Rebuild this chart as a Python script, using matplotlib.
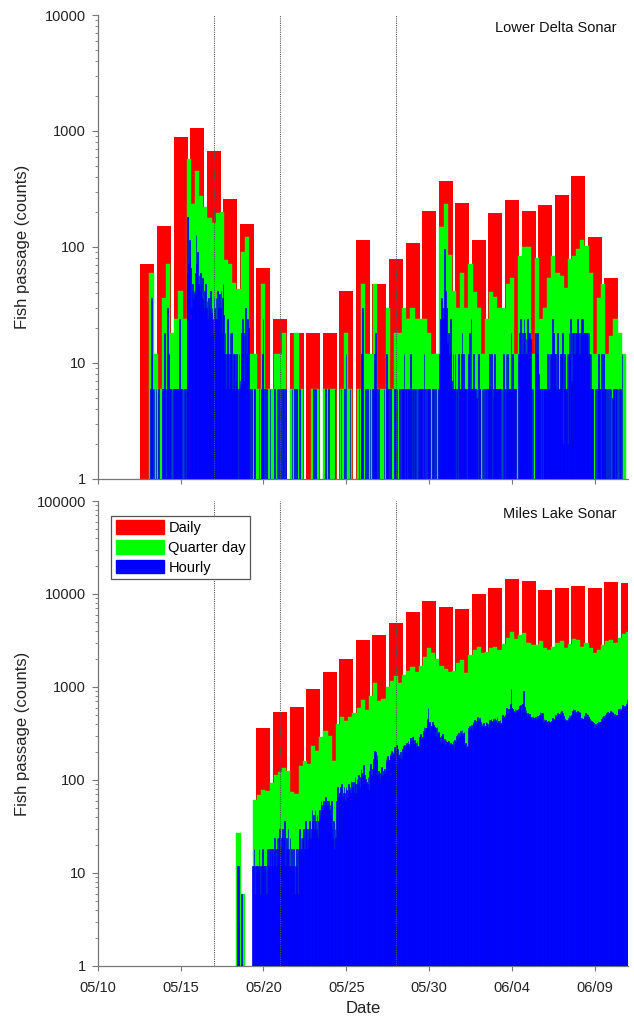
import numpy as np
import pandas as pd
import matplotlib
matplotlib.use("Agg")
import matplotlib.pyplot as plt
import matplotlib.dates as mdates
from matplotlib.patches import Patch
from matplotlib.ticker import FixedLocator, FuncFormatter, LogLocator, NullFormatter

plt.rcParams['font.family'] = ['Liberation Sans', 'DejaVu Sans']
plt.rcParams['font.size'] = 10.5

RED, GREEN, BLUE = "#ff0000", "#00ff00", "#0000ff"

# ---------------- Lower Delta Sonar ----------------
top_daily_start = "2012-05-13"          # one bar per day, 05/13 .. 06/10
top_daily = [72, 152, 883, 1068, 676, 261, 158, 66, 24, 18,
             18, 18, 42, 115, 48, 79, 109, 206, 371, 238,
             115, 195, 256, 206, 230, 279, 407, 121, 54]

top_sub_start = "2012-05-13 03:00"      # quarter-day / hourly blocks start here
top_quarter = [
    [60, 12, 6, 36], [72, 18, 24, 42], [24, 570, 237, 453], [275, 220, 177, 162],
    [195, 200, 77, 72], [49, 43, 91, 122], [12, 12, 6, 48], [6, 6, 12, 12],
    [18, 0, 6, 18], [6, 0, 0, 6], [6, 0, 6, 6], [6, 0, 6, 18],
    [6, 0, 6, 48], [12, 12, 48, 6], [6, 30, 6, 18], [18, 30, 24, 30],
    [24, 24, 24, 18], [12, 12, 150, 237], [85, 42, 30, 60], [30, 72, 41, 30],
    [12, 24, 41, 37], [30, 30, 48, 54], [12, 84, 100, 100], [12, 80, 24, 30],
    [54, 84, 60, 56], [44, 79, 84, 96], [115, 102, 60, 12], [36, 48, 12, 17],
    [24, 18, 12, 0],
]
top_hourly = [
    [0, 6, 36, 12, 6, 0, 6, 0, 0, 6, 0, 0, 0, 6, 0, 0, 0, 0, 6, 0, 6, 18, 6, 0],
    [6, 12, 30, 12, 6, 6, 6, 0, 6, 0, 6, 0, 6, 6, 0, 6, 6, 0, 6, 24, 6, 0, 6, 0],
    [6, 0, 6, 6, 0, 6, 60, 180, 72, 114, 78, 66, 30, 42, 48, 36, 42, 39, 60, 126, 72, 90, 48, 57],
    [42, 60, 48, 36, 54, 35, 30, 42, 36, 48, 30, 34, 24, 36, 30, 18, 42, 27, 30, 24, 18, 36, 30, 24],
    [36, 24, 42, 30, 24, 39, 30, 42, 18, 36, 48, 26, 12, 18, 6, 12, 24, 5, 12, 6, 18, 12, 18, 6],
    [6, 12, 6, 12, 6, 7, 12, 6, 0, 12, 6, 7, 12, 18, 24, 12, 18, 7, 18, 30, 12, 24, 18, 20],
    [6, 0, 0, 6, 0, 0, 0, 6, 6, 0, 0, 0, 0, 0, 6, 0, 0, 0, 6, 12, 24, 0, 6, 0],
    [0, 6, 0, 0, 0, 0, 6, 0, 0, 0, 0, 0, 0, 6, 0, 0, 6, 0, 6, 0, 0, 6, 0, 0],
    [6, 0, 6, 0, 6, 0, 0, 0, 0, 0, 0, 0, 0, 0, 6, 0, 0, 0, 6, 0, 6, 6, 0, 0],
    [0, 6, 0, 0, 0, 0, 0, 0, 0, 0, 0, 0, 0, 0, 0, 0, 0, 0, 0, 0, 0, 6, 0, 0],
    [6, 0, 0, 0, 0, 0, 0, 0, 0, 0, 0, 0, 0, 0, 6, 0, 0, 0, 0, 6, 0, 0, 0, 0],
    [0, 0, 0, 0, 6, 0, 0, 0, 0, 0, 0, 0, 0, 6, 0, 0, 0, 0, 6, 0, 12, 0, 0, 0],
    [0, 0, 6, 0, 0, 0, 0, 0, 0, 0, 0, 0, 0, 0, 0, 6, 0, 0, 6, 12, 30, 0, 0, 0],
    [6, 0, 0, 6, 0, 0, 0, 6, 0, 0, 6, 0, 6, 12, 6, 18, 6, 0, 0, 6, 0, 0, 0, 0],
    [0, 0, 0, 6, 0, 0, 6, 12, 6, 0, 6, 0, 0, 6, 0, 0, 0, 0, 6, 0, 6, 0, 6, 0],
    [0, 6, 6, 0, 6, 0, 6, 6, 12, 0, 6, 0, 6, 0, 6, 6, 6, 0, 12, 6, 0, 6, 6, 0],
    [6, 6, 0, 6, 0, 6, 0, 6, 6, 6, 6, 0, 6, 12, 0, 6, 0, 0, 6, 0, 6, 6, 0, 0],
    [0, 6, 0, 6, 0, 0, 6, 0, 0, 0, 6, 0, 12, 24, 36, 24, 30, 24, 30, 96, 42, 24, 30, 15],
    [12, 18, 12, 24, 12, 7, 6, 12, 6, 6, 12, 0, 6, 6, 0, 12, 6, 0, 6, 12, 18, 6, 12, 6],
    [6, 6, 6, 0, 6, 6, 12, 18, 6, 24, 6, 6, 6, 12, 6, 6, 6, 5, 6, 0, 12, 6, 6, 0],
    [0, 6, 0, 6, 0, 0, 6, 6, 0, 6, 6, 0, 12, 6, 6, 12, 0, 5, 6, 12, 6, 6, 6, 1],
    [6, 6, 6, 6, 6, 0, 6, 0, 12, 6, 6, 0, 12, 6, 12, 6, 6, 6, 6, 18, 6, 12, 6, 6],
    [6, 0, 6, 0, 0, 0, 12, 18, 12, 24, 12, 6, 18, 12, 24, 18, 12, 16, 12, 24, 18, 12, 18, 16],
    [0, 6, 0, 6, 0, 0, 12, 18, 12, 18, 12, 8, 6, 6, 0, 6, 6, 0, 6, 6, 6, 6, 6, 0],
    [12, 6, 12, 6, 12, 6, 12, 24, 12, 18, 12, 6, 12, 6, 18, 12, 6, 6, 6, 12, 12, 6, 18, 2],
    [6, 12, 6, 6, 12, 2, 12, 18, 12, 24, 6, 7, 18, 12, 18, 12, 18, 6, 18, 24, 18, 18, 12, 6],
    [18, 24, 18, 24, 18, 13, 18, 18, 18, 18, 18, 12, 18, 12, 6, 12, 6, 6, 6, 0, 0, 6, 0, 0],
    [6, 6, 12, 6, 6, 0, 12, 6, 6, 12, 6, 6, 6, 0, 0, 6, 0, 0, 6, 0, 6, 0, 5, 0],
    [6, 6, 0, 6, 6, 0, 6, 0, 6, 0, 6, 0, 12, 0, 0, 0, 0, 0, 0, 0, 0, 0, 0, 0],
]

# ---------------- Miles Lake Sonar ----------------
bot_daily_start = "2012-05-20"          # 05/20 .. 06/11
bot_daily = [360, 543, 614, 951, 1450, 1985, 3226, 3650, 4840, 6450,
             8340, 7310, 6840, 10080, 11600, 14600, 13900, 11040, 11600, 12280,
             11600, 13460, 13000]

bot_sub_start = "2012-05-18 09:00"
bot_quarter = [
    [27, 6, 0, 0], [61, 69, 78, 76], [92, 113, 123, 133], [125, 75, 70, 140],
    [160, 150, 230, 205], [290, 340, 300, 160], [400, 470, 430, 480], [520, 600, 720, 560],
    [800, 1100, 700, 750], [1000, 1150, 1300, 1100], [1350, 1500, 1650, 1450], [1700, 2100, 2600, 2300],
    [2000, 1700, 1550, 1450], [1500, 1800, 1950, 1400], [2200, 2500, 2700, 2300], [2400, 2600, 2700, 2500],
    [2900, 3400, 3900, 3300], [3600, 3800, 3000, 2800], [2800, 3100, 2600, 2500], [2700, 3000, 3100, 2600],
    [2900, 3300, 3200, 2700], [3000, 2600, 2300, 2500], [2800, 3100, 3200, 3000], [3400, 3700, 3900, 3600],
]
bot_hourly = [
    [0, 12, 12, 3, 0, 0, 0, 6, 0, 0, 0, 0, 0, 0, 0, 0, 0, 0, 0, 0, 0, 0, 0, 12],
    [12, 18, 6, 12, 12, 6, 12, 12, 18, 12, 6, 12, 12, 18, 12, 12, 12, 6, 12, 6, 18, 12, 12, 18],
    [18, 12, 18, 12, 18, 12, 18, 24, 18, 12, 24, 18, 24, 18, 30, 18, 12, 24, 30, 18, 24, 36, 12, 18],
    [24, 18, 30, 18, 12, 24, 12, 18, 6, 12, 18, 12, 6, 12, 18, 12, 6, 18, 24, 30, 18, 24, 18, 24],
    [24, 30, 18, 36, 24, 30, 18, 24, 30, 36, 18, 24, 30, 48, 36, 42, 30, 48, 36, 30, 42, 24, 36, 42],
    [48, 42, 60, 54, 48, 42, 60, 54, 66, 48, 60, 54, 42, 60, 48, 54, 42, 60, 30, 24, 36, 18, 30, 24],
    [60, 72, 84, 66, 54, 72, 84, 78, 90, 66, 72, 84, 72, 60, 84, 78, 66, 72, 90, 78, 84, 72, 96, 60],
    [84, 96, 72, 108, 90, 72, 102, 90, 114, 96, 84, 108, 132, 120, 108, 144, 96, 114, 102, 84, 96, 90, 108, 78],
    [126, 138, 150, 114, 132, 138, 168, 204, 180, 198, 162, 186, 114, 126, 108, 120, 102, 132, 138, 114, 126, 120, 132, 120],
    [168, 156, 180, 174, 162, 162, 192, 180, 204, 186, 198, 192, 228, 216, 204, 240, 198, 216, 186, 192, 174, 198, 168, 180],
    [216, 234, 204, 240, 222, 234, 252, 240, 264, 246, 228, 270, 282, 264, 288, 300, 246, 270, 240, 252, 228, 264, 234, 234],
    [264, 288, 312, 276, 270, 290, 336, 372, 324, 360, 348, 360, 456, 600, 408, 420, 336, 380, 378, 420, 366, 390, 372, 374],
    [360, 300, 372, 324, 330, 314, 288, 264, 300, 276, 312, 260, 252, 276, 240, 270, 258, 254, 228, 264, 240, 252, 222, 244],
    [240, 264, 216, 270, 252, 258, 300, 312, 276, 324, 288, 300, 336, 312, 348, 300, 324, 330, 240, 252, 216, 228, 234, 230],
    [360, 384, 348, 372, 390, 346, 420, 396, 444, 408, 432, 400, 456, 480, 432, 468, 444, 420, 384, 396, 372, 408, 360, 380],
    [384, 420, 408, 396, 372, 420, 444, 420, 456, 432, 408, 440, 456, 432, 468, 444, 420, 480, 408, 432, 396, 444, 408, 412],
    [468, 504, 456, 492, 480, 500, 552, 600, 528, 576, 564, 580, 660, 960, 600, 576, 552, 552, 540, 576, 528, 564, 552, 540],
    [576, 624, 600, 648, 552, 600, 660, 900, 540, 612, 528, 560, 480, 528, 504, 492, 516, 480, 456, 480, 444, 492, 468, 460],
    [456, 480, 444, 492, 468, 460, 504, 540, 492, 528, 516, 520, 420, 456, 432, 444, 420, 428, 396, 432, 408, 420, 420, 424],
    [432, 468, 420, 456, 444, 480, 504, 480, 528, 492, 516, 480, 540, 504, 552, 492, 528, 484, 420, 456, 432, 444, 420, 428],
    [468, 504, 456, 492, 480, 500, 552, 576, 528, 564, 540, 540, 528, 552, 516, 540, 528, 536, 444, 468, 432, 456, 450, 450],
    [492, 528, 480, 516, 504, 480, 432, 456, 420, 444, 432, 416, 384, 408, 360, 396, 372, 380, 408, 432, 396, 420, 420, 424],
    [456, 480, 444, 492, 468, 460, 504, 528, 492, 540, 516, 520, 528, 552, 516, 540, 528, 536, 492, 516, 480, 504, 504, 504],
    [552, 576, 540, 588, 564, 580, 612, 648, 600, 624, 600, 616, 660, 720, 624, 648, 612, 636, 600, 624, 588, 612, 576, 600],
]

event_dates = ["2012-05-17", "2012-05-21", "2012-05-28"]
tick_dates = pd.date_range("2012-05-10", periods=7, freq="5D")
x_range = (pd.Timestamp("2012-05-10"), pd.Timestamp("2012-06-11"))


def draw_panel(ax, daily_start, daily, sub_start, quarter, hourly, ymax, title):
    days = pd.date_range(daily_start, periods=len(daily), freq="D")
    q = np.ravel(quarter).astype(float)
    h = np.ravel(hourly).astype(float)
    qt = pd.date_range(sub_start, periods=len(q), freq="6h")
    ht = pd.date_range(sub_start, periods=len(h), freq="h")

    ax.bar(days, daily, width=0.84, color=RED, linewidth=0, zorder=1)
    ax.bar(qt[q > 0], q[q > 0], width=0.25, align="edge", color=GREEN,
           edgecolor=GREEN, linewidth=0.3, zorder=2)
    ax.bar(ht[h > 0], h[h > 0], width=1 / 24, align="edge", color=BLUE,
           edgecolor=BLUE, linewidth=0.5, zorder=3)

    for d in event_dates:
        ax.axvline(pd.Timestamp(d), color="#555555", lw=0.8, ls=(0, (1, 1)), zorder=4)

    ax.set_yscale("log")
    ax.set_ylim(1, ymax)
    ax.set_xlim(*x_range)
    ax.yaxis.set_major_locator(LogLocator(base=10, numticks=10))
    ax.yaxis.set_minor_locator(LogLocator(base=10, subs=np.arange(2, 10), numticks=20))
    ax.yaxis.set_major_formatter(FuncFormatter(lambda v, p: f"{v:.0f}"))
    ax.yaxis.set_minor_formatter(NullFormatter())
    ax.xaxis.set_major_locator(FixedLocator(mdates.date2num(tick_dates)))
    ax.xaxis.set_major_formatter(mdates.DateFormatter("%m/%d"))

    for s in ("top", "right"):
        ax.spines[s].set_visible(False)
    for s in ("left", "bottom"):
        ax.spines[s].set_color("#777777")
        ax.spines[s].set_linewidth(0.9)
    ax.tick_params(axis="y", which="major", length=4.5, width=0.8, color="#777777",
                   labelcolor="#222222", pad=4)
    ax.tick_params(axis="y", which="minor", length=2.2, width=0.6, color="#777777")
    ax.tick_params(axis="x", which="major", length=3.5, width=0.8, color="#777777",
                   labelcolor="#222222", pad=7)
    ax.set_ylabel("Fish passage (counts)", fontsize=12, color="#222222")
    ax.yaxis.set_label_coords(-0.128, 0.5)
    ax.text(0.979, 0.988, title, transform=ax.transAxes, ha="right", va="top",
            fontsize=10.5, color="#111111")


fig = plt.figure(figsize=(6.34, 10.21), dpi=100)
ax1 = fig.add_axes([0.1541, 0.5309, 0.8364, 0.4544])
ax2 = fig.add_axes([0.1541, 0.0539, 0.8364, 0.4554])

draw_panel(ax1, top_daily_start, top_daily, top_sub_start, top_quarter, top_hourly,
           10000, "Lower Delta Sonar")
draw_panel(ax2, bot_daily_start, bot_daily, bot_sub_start, bot_quarter, bot_hourly,
           100000, "Miles Lake Sonar")
ax1.tick_params(axis="x", labelbottom=False)
ax2.set_xlabel("Date", fontsize=12, color="#222222", labelpad=5)

handles = [Patch(color=RED, label="Daily"), Patch(color=GREEN, label="Quarter day"),
           Patch(color=BLUE, label="Hourly")]
leg = ax2.legend(handles=handles, loc="upper left", bbox_to_anchor=(0.026, 0.968),
                 fancybox=False, frameon=True, edgecolor="#555555", framealpha=1,
                 handlelength=3.3, handleheight=1.05, handletextpad=0.3,
                 labelspacing=0.35, borderpad=0.3, borderaxespad=0, fontsize=10.5)
leg.get_frame().set_linewidth(0.9)

fig.savefig("out.png", dpi=100)
